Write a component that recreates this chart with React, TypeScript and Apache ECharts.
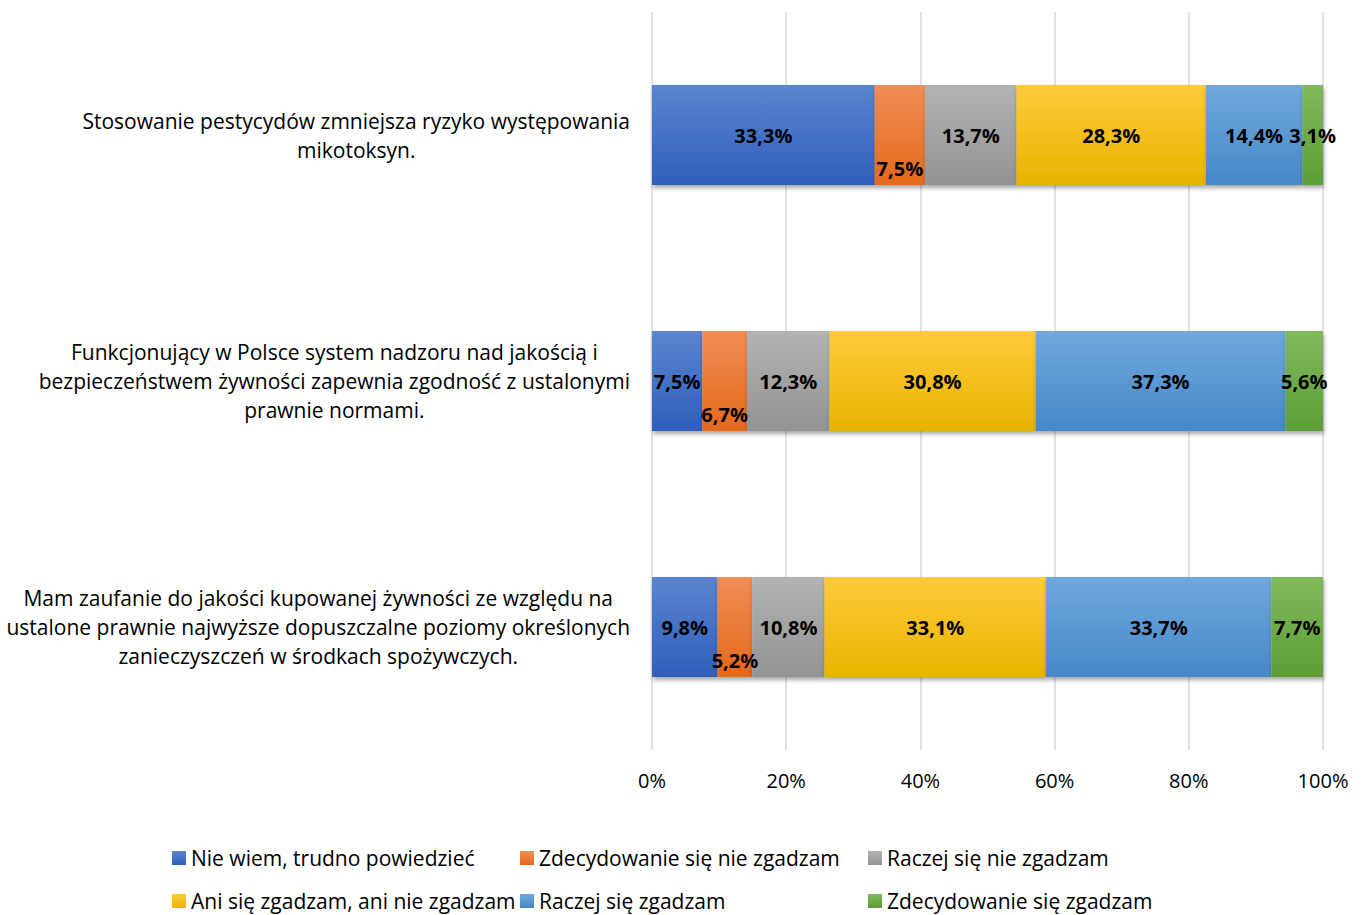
import React, { useEffect, useRef } from "react";
import * as echarts from "echarts";

const categories = [
  "Stosowanie pestycydów zmniejsza ryzyko występowania\nmikotoksyn.",
  "Funkcjonujący w Polsce system nadzoru nad jakością i\nbezpieczeństwem żywności zapewnia zgodność z ustalonymi\nprawnie normami.",
  "Mam zaufanie do jakości kupowanej żywności ze względu na\nustalone prawnie najwyższe dopuszczalne poziomy określonych\nzanieczyszczeń w środkach spożywczych.",
];

const seriesNames = [
  "Nie wiem, trudno powiedzieć",
  "Zdecydowanie się nie zgadzam",
  "Raczej się nie zgadzam",
  "Ani się zgadzam, ani nie zgadzam",
  "Raczej się zgadzam",
  "Zdecydowanie się zgadzam",
];

// values per series, in category order (top to bottom)
const nieWiem = [33.3, 7.5, 9.8];
const zdecydowanieNie = [7.5, 6.7, 5.2];
const raczejNie = [13.7, 12.3, 10.8];
const ani = [28.3, 30.8, 33.1];
const raczejTak = [14.4, 37.3, 33.7];
const zdecydowanieTak = [3.1, 5.6, 7.7];

const seriesValues = [nieWiem, zdecydowanieNie, raczejNie, ani, raczejTak, zdecydowanieTak];

const xTicks = [0, 20, 40, 60, 80, 100];

const colorsTop = ["#5a84cf", "#f18d55", "#b3b3b3", "#ffca3a", "#70a8dd", "#80ba5c"];
const colorsBottom = ["#2f5fbb", "#e4691b", "#939393", "#e9b400", "#4688c8", "#5d9d36"];

const FONT = "Open Sans";

export default function App() {
  const ref = useRef<HTMLDivElement>(null);
  useEffect(() => {
    if (!ref.current) return;
    const chart = echarts.init(ref.current, undefined, { renderer: "svg" });
    const totals = categories.map((_, ci) =>
      seriesValues.reduce((s, arr) => s + arr[ci], 0)
    );
    const series = seriesNames.map((name, si) => ({
      name,
      type: "bar",
      stack: "total",
      barWidth: 100,
      data: seriesValues[si].map((v, ci) => ({
        value: (v / totals[ci]) * 100,
        raw: v,
      })),
      itemStyle: {
        color: new echarts.graphic.LinearGradient(0, 0, 0, 1, [
          { offset: 0, color: colorsTop[si] },
          { offset: 1, color: colorsBottom[si] },
        ]),
        shadowColor: "rgba(0,0,0,0.35)",
        shadowBlur: 4,
        shadowOffsetY: 3,
        shadowOffsetX: 1,
      },
      label: {
        show: true,
        position: si === 1 ? "insideBottom" : "inside",
        distance: si === 1 ? 6 : 5,
        fontFamily: FONT,
        fontWeight: "bold",
        fontSize: 20,
        lineHeight: 22,
        color: "#000",
        formatter: (p: any) => p.data.raw.toFixed(1).replace(".", ",") + "%",
      },
    }));

    const legends = seriesNames.map((name, i) => ({
      orient: "horizontal",
      left: 167 + (i % 3) * 348,
      top: i < 3 ? 842 : 885,
      itemWidth: 14,
      itemHeight: 14,
      itemGap: 5,
      icon: "rect",
      textStyle: {
        fontFamily: FONT,
        fontSize: 21,
        lineHeight: 22,
        color: "#000",
      },
      data: [name],
    }));

    chart.setOption({
      animation: false,
      grid: { left: 652, right: 42, top: 12, bottom: 165 },
      legend: legends,
      xAxis: {
        type: "value",
        min: 0,
        max: 100,
        interval: 20,
        axisLine: { show: false },
        axisTick: { show: false },
        splitLine: { lineStyle: { color: "#d9d9d9", width: 1.5 } },
        axisLabel: {
          margin: 20,
          fontFamily: FONT,
          fontSize: 20,
          color: "#000",
          formatter: (v: number) => (xTicks.includes(v) ? v + "%" : ""),
        },
      },
      yAxis: {
        type: "category",
        inverse: true,
        data: categories,
        axisLine: { show: false },
        axisTick: { show: false },
        axisLabel: {
          margin: 22,
          align: "right",
          lineHeight: 29,
          formatter: (v: string) =>
            v
              .split("\n")
              .map((l) => "{c|" + l + "}")
              .join("\n"),
          rich: {
            c: {
              align: "center",
              fontFamily: FONT,
              fontSize: 21,
              lineHeight: 29,
              color: "#000",
            },
          },
        },
      },
      series,
    });
    return () => chart.dispose();
  }, []);
  return (
    <div
      ref={ref}
      style={{ position: "fixed", left: 0, top: 0, width: 1365, height: 915, background: "#fff" }}
    />
  );
}
